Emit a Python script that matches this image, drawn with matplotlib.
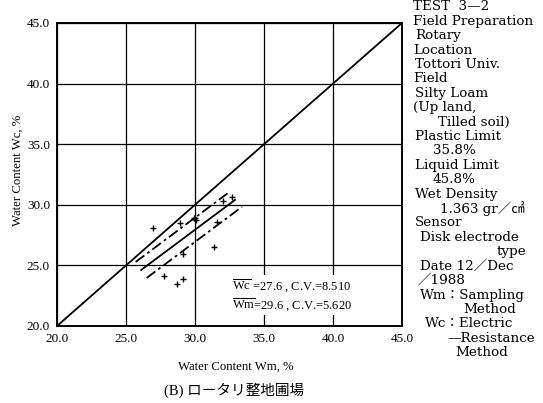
import matplotlib
matplotlib.use('Agg')
import matplotlib.pyplot as plt
import numpy as np

plt.rcParams['font.family'] = ['Liberation Serif', 'Noto Sans CJK JP']
plt.rcParams['mathtext.fontset'] = 'custom'
plt.rcParams['mathtext.rm'] = 'Liberation Serif'

# Measured water content (Wm: sampling, Wc: electric resistance), %
wm = [26.98, 28.91, 29.95, 30.05, 30.00, 31.57, 32.05, 32.65, 31.38, 29.15, 27.78, 29.15, 28.67]
wc = [28.06, 28.47, 28.89, 28.75, 28.95, 28.60, 30.34, 30.62, 26.49, 25.92, 24.13, 23.85, 23.44]

# Regression line and band
wc_mean = 27.6
wm_mean = 29.6
slope = 0.85
band = 1.0
fit_range = [26.1, 32.9]
upper_range = [25.7, 32.5]
lower_range = [26.5, 33.4]

ticks = [20.0, 25.0, 30.0, 35.0, 40.0, 45.0]

info_lines = [
    ('TEST  3\u20142', 413), ('Field Preparation', 413), ('Rotary', 415),
    ('Location', 413), ('Tottori Univ.', 415), ('Field', 413),
    ('Silty Loam', 415), ('(Up land,', 413), ('Tilled soil)', 438),
    ('Plastic Limit', 415), ('35.8%', 433), ('Liquid Limit', 415),
    ('45.8%', 433), ('Wet Density', 415), ('1.363 gr\uff0f\u33a0', 440),
    ('Sensor', 415), ('Disk electrode', 420), ('type', 497),
    ('Date 12\uff0fDec', 420), ('\uff0f1988', 418), ('Wm\uff1aSampling', 420),
    ('Method', 463), ('Wc\uff1aElectric', 425), ('\u2014Resistance', 447),
    ('Method', 455),
]

W, H = 543, 403
fig = plt.figure(figsize=(W / 100, H / 100), dpi=100)
ax = fig.add_axes([57 / W, 1 - 326 / H, (402 - 57) / W, (326 - 23) / H])

ax.set_xlim(20, 45)
ax.set_ylim(20, 45)
ax.set_xticks(ticks)
ax.set_yticks(ticks)
ax.set_xticklabels([f'{t:.1f}' for t in ticks], fontsize=9.5)
ax.set_yticklabels([f'{t:.1f}' for t in ticks], fontsize=9.5)
ax.tick_params(length=0, pad=5)
ax.grid(True, color='black', linewidth=0.9)
for s in ax.spines.values():
    s.set_linewidth(1.4)

ax.plot([20, 45], [20, 45], color='black', linewidth=1.3)


def line_y(x, off):
    x = np.array(x)
    return wc_mean + slope * (x - wm_mean) + off


ax.plot(fit_range, line_y(fit_range, 0), color='black', linewidth=1.3)
ax.plot(upper_range, line_y(upper_range, band), color='black', linewidth=1.3,
        linestyle=(0, (6, 2, 1.5, 2)))
ax.plot(lower_range, line_y(lower_range, -band), color='black', linewidth=1.3,
        linestyle=(0, (6, 2, 1.5, 2)))

ax.scatter(wm, wc, marker='+', color='black', s=25, linewidths=1.0, zorder=5)

ax.text(32.65, 22.55, r'$\overline{\mathrm{Wc}}$ =27.6 , C.V.=8.510' + '\n'
        + r'$\overline{\mathrm{Wm}}$=29.6 , C.V.=5.620',
        fontsize=9, va='center', ha='left', linespacing=1.25,
        bbox=dict(facecolor='white', edgecolor='none', pad=1.5), zorder=6)

fig.text(236 / W, 1 - 367 / H, 'Water Content Wm, %', fontsize=9.2, ha='center', va='center')
fig.text(18 / W, 1 - 170 / H, 'Water Content Wc, %', fontsize=9.2, ha='center', va='center',
         rotation=90)
fig.text(234 / W, 1 - 390 / H, '(B) ロータリ整地圃場', fontsize=10.5, ha='center', va='center')

for i, (txt, x) in enumerate(info_lines):
    fig.text(x / W, 1 - (7 + i * 14.4) / H, txt, fontsize=9.7, ha='left', va='center',
             family=['DejaVu Serif', 'Noto Sans CJK JP'])

fig.savefig('out.png', dpi=100)
